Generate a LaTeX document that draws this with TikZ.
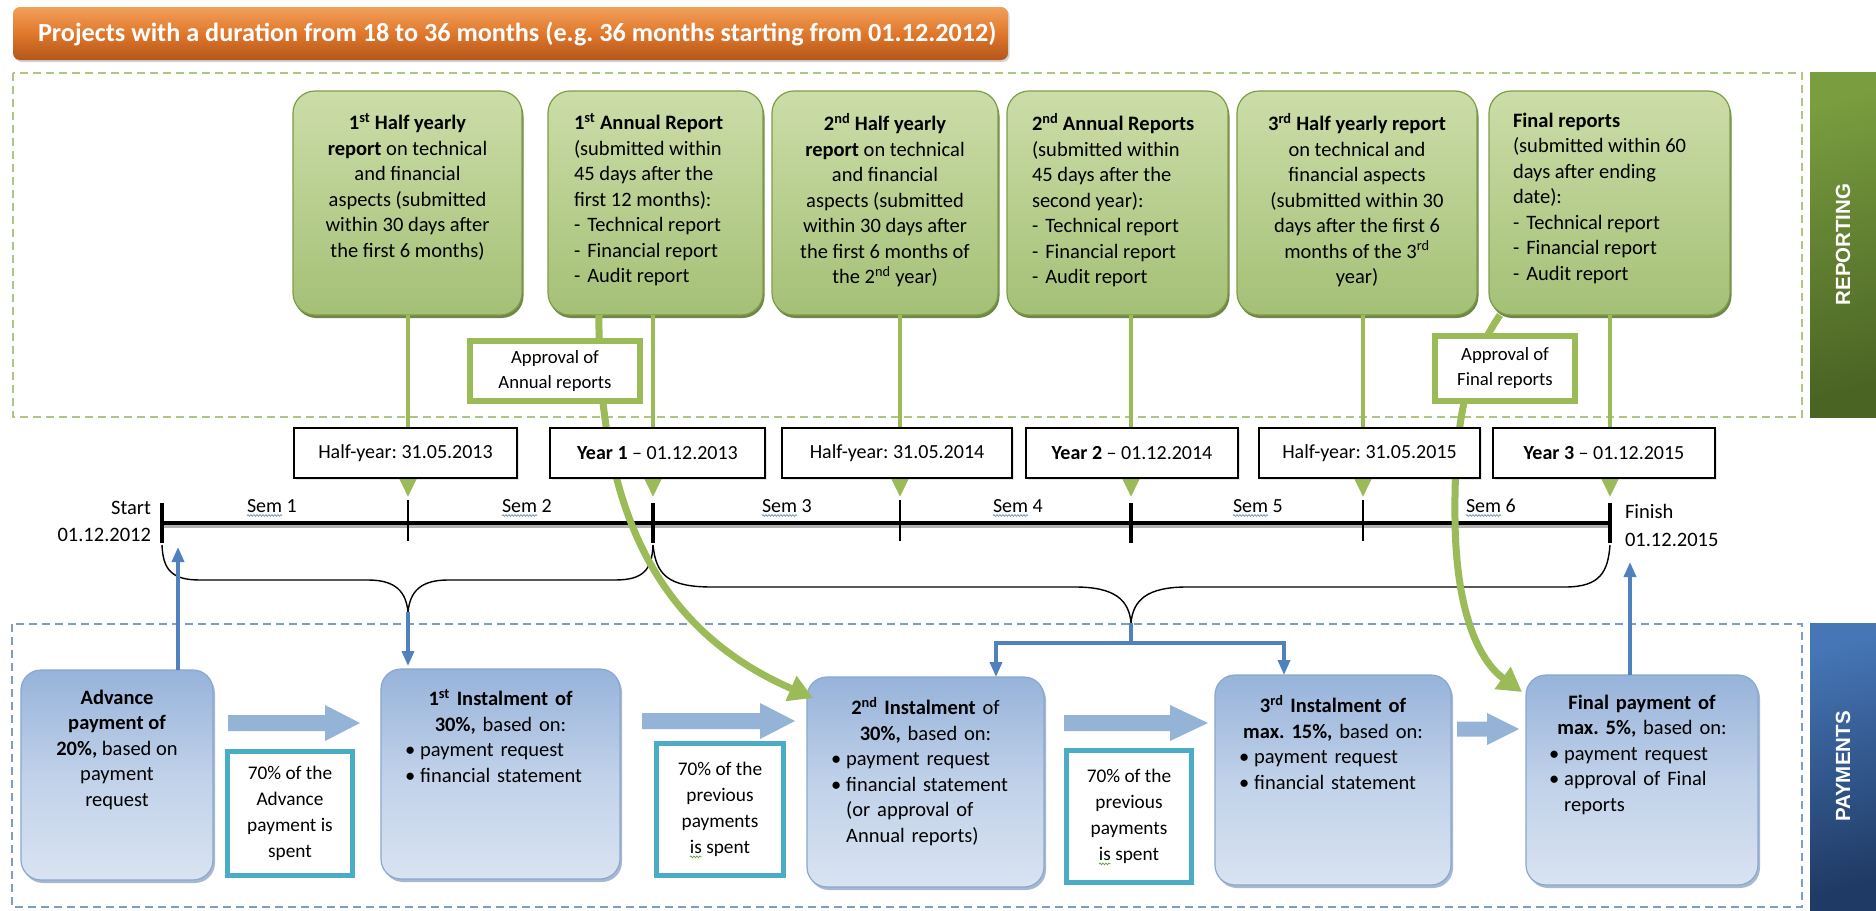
\documentclass[tikz,border=0pt]{standalone}
\usepackage{fontspec}
\setmainfont{Carlito}
\newfontfamily\bandfont{Liberation Sans}
\usetikzlibrary{arrows.meta,shadows,decorations.pathmorphing,calc}
\frenchspacing

\definecolor{gline}{HTML}{9BBB59}
\definecolor{gtop}{HTML}{CCDDA8}
\definecolor{gbot}{HTML}{A4C076}
\definecolor{gedge}{HTML}{7E9E46}
\definecolor{gshadow}{HTML}{56702C}
\definecolor{gdash}{HTML}{AFC583}
\definecolor{bdash}{HTML}{7F9CC2}
\definecolor{bconn}{HTML}{4F81BD}
\definecolor{btop}{HTML}{97B3DA}
\definecolor{bmid}{HTML}{C0D1E9}
\definecolor{bbot}{HTML}{D9E3F1}
\definecolor{bedge}{HTML}{8AA7D0}
\definecolor{bshadow}{HTML}{5F7FA8}
\definecolor{barrowc}{HTML}{95B3D7}
\definecolor{tealb}{HTML}{4BACC6}
\definecolor{otop}{HTML}{F2A05A}
\definecolor{omid}{HTML}{E0782C}
\definecolor{obot}{HTML}{B3551A}
\definecolor{rtop}{HTML}{7A9D3F}
\definecolor{rbot}{HTML}{4A6424}
\definecolor{ptop}{HTML}{4676B6}
\definecolor{pbot}{HTML}{1F3A64}
\definecolor{sqc}{HTML}{6D8FBE}
\definecolor{sqg}{HTML}{5E9E3A}

\newcommand\bodyfont{\fontsize{20.5}{25.5}\selectfont}
\newcommand\datefont{\fontsize{20}{24}\selectfont}
\newcommand\smallfont{\fontsize{18.7}{25}\selectfont}
\newcommand\tfont{\fontsize{19.3}{25.8}\selectfont}
\newcommand\titlefont{\fontsize{26.2}{30}\selectfont\bfseries}
\newlength\sqw
\newcommand\sq[2]{\settowidth\sqw{#2}\makebox[0pt][l]{\tikz[overlay]\draw[#1,line width=.7pt,decorate,decoration={snake,amplitude=.9pt,segment length=3pt}] (0pt,-3.5pt) -- (\sqw,-3.5pt);}#2}
\newcommand\blockarr[6]{\fill[barrowc] (#1,#4-#5) -- (#2,#4-#5) -- (#2,#4-#6) -- (#3,#4) -- (#2,#4+#6) -- (#2,#4+#5) -- (#1,#4+#5) -- cycle;}

\tikzset{
  greenbox/.style={draw=gedge, line width=1.2pt, rounded corners=22pt, top color=gtop, bottom color=gbot,
    drop shadow={shadow xshift=1.5pt, shadow yshift=-3pt, fill=gshadow, opacity=.85}},
  paybox/.style={draw=bedge, line width=1.2pt, rounded corners=20pt, top color=btop, bottom color=bbot, middle color=bmid,
    drop shadow={shadow xshift=2pt, shadow yshift=-3pt, fill=bshadow, opacity=.55}},
  datebox/.style={draw=black, line width=1.3pt, fill=white, font=\datefont,
    drop shadow={shadow xshift=2pt, shadow yshift=-2pt, opacity=.2}},
  apbox/.style={draw=gline, line width=6pt, fill=white, font=\smallfont, align=center},
  tbox/.style={draw=tealb, line width=5pt, fill=white, font=\tfont, align=center},
  btext/.style={font=\bodyfont},
  garrow/.style={draw=gline, line width=4pt, -{Triangle[length=18pt,width=16pt]}},
  gcurve/.style={draw=gline, line width=7pt, -{Triangle[length=24pt,width=26pt]}},
  barrow/.style={draw=bconn, line width=3.5pt, -{Triangle[length=15pt,width=12pt]}},
  bline/.style={draw=bconn, line width=3.5pt},
  bracestyle/.style={draw=black, line width=1.4pt},
  bigtick/.style={draw=black, line width=4.5pt},
  smalltick/.style={draw=black, line width=1.6pt},
}

\begin{document}
\begin{tikzpicture}[x=1pt,y=-1pt, every node/.style={inner sep=0pt, outer sep=0pt}]
\useasboundingbox (0,0) rectangle (1876,910);
\fill[white] (0,0) rectangle (1876,910);

% ---------- frames and bands ----------
\draw[gdash, line width=1.6pt, dash pattern=on 8pt off 5pt] (13,73) rectangle (1802,417);
\draw[bdash, line width=1.6pt, dash pattern=on 8pt off 5pt] (12,624) rectangle (1802,907);
\node[minimum width=66pt, minimum height=345pt, top color=rtop, bottom color=rbot, shading angle=15] (repband) at (1843,244.5) {};
\node[rotate=90, text=white, font=\bandfont\bfseries\fontsize{20.5}{21}\selectfont] (replab) at (repband) {REPORTING};
\node[minimum width=66pt, minimum height=287pt, top color=ptop, bottom color=pbot, shading angle=15] (payband) at (1843,766.5) {};
\node[rotate=90, text=white, font=\bandfont\bfseries\fontsize{20.5}{21}\selectfont] (paylab) at (payband) {PAYMENTS};

% ---------- title ----------
\node[minimum width=995pt, minimum height=53pt, rounded corners=7pt, top color=otop, bottom color=obot, middle color=omid,
  drop shadow={shadow xshift=1.5pt, shadow yshift=-2pt, opacity=.35}] (title) at (510.5,33.5) {};
\node[anchor=west, text=white, font=\titlefont] (titletext) at (38,34) {Projects with a duration from 18 to 36 months (e.g. 36 months starting from 01.12.2012)};

% ---------- report boxes ----------
\node[greenbox, minimum width=229pt, minimum height=224pt] (b1) at (407.5,203) {};
\node[greenbox, minimum width=215pt, minimum height=224pt] (b2) at (655.5,203) {};
\node[greenbox, minimum width=226pt, minimum height=224pt] (b3) at (885,203) {};
\node[greenbox, minimum width=221pt, minimum height=224pt] (b4) at (1117.5,203) {};
\node[greenbox, minimum width=240pt, minimum height=224pt] (b5) at (1357,203) {};
\node[greenbox, minimum width=241pt, minimum height=224pt] (b6) at (1609.5,203) {};

\node[btext, anchor=north, align=center] (b1t) at ($(b1.north)+(0,22)$)
 {\textbf{1\textsuperscript{st} Half yearly}\\\textbf{report} on technical\\and financial\\aspects (submitted\\within 30 days after\\the first 6 months)};
\node[btext, anchor=north west, align=left] (b2t) at ($(b2.north west)+(26,22)$)
 {\textbf{1\textsuperscript{st} Annual Report}\\(submitted within\\45 days after the\\first 12 months):\\-\hspace{7pt}Technical report\\-\hspace{7pt}Financial report\\-\hspace{7pt}Audit report};
\node[btext, anchor=north, align=center] (b3t) at ($(b3.north)+(0,22)$)
 {\textbf{2\textsuperscript{nd} Half yearly}\\\textbf{report} on technical\\and financial\\aspects (submitted\\within 30 days after\\the first 6 months of\\the 2\textsuperscript{nd} year)};
\node[btext, anchor=north west, align=left] (b4t) at ($(b4.north west)+(25,22)$)
 {\textbf{2\textsuperscript{nd} Annual Reports}\\(submitted within\\45 days after the\\second year):\\-\hspace{7pt}Technical report\\-\hspace{7pt}Financial report\\-\hspace{7pt}Audit report};
\node[btext, anchor=north, align=center] (b5t) at ($(b5.north)+(0,22)$)
 {\textbf{3\textsuperscript{rd} Half yearly report}\\on technical and\\financial aspects\\(submitted within 30\\days after the first 6\\months of the 3\textsuperscript{rd}\\year)};
\node[btext, anchor=north west, align=left] (b6t) at ($(b6.north west)+(24,22)$)
 {\textbf{Final reports}\\(submitted within 60\\days after ending\\date):\\-\hspace{7pt}Technical report\\-\hspace{7pt}Financial report\\-\hspace{7pt}Audit report};

% ---------- timeline coordinates ----------
\coordinate (t0) at (162,523);
\coordinate (t1) at (408,523);
\coordinate (t2) at (653,523);
\coordinate (t3) at (900,523);
\coordinate (t4) at (1131,523);
\coordinate (t5) at (1363,523);
\coordinate (t6) at (1610,523);

% ---------- green thin arrows ----------
\draw[garrow] (b1.south -| t1) -- ($(t1)+(0,-26)$);
\draw[garrow] (b2.south -| t2) -- ($(t2)+(0,-26)$);
\draw[garrow] (b3.south -| t3) -- ($(t3)+(0,-26)$);
\draw[garrow] (b4.south -| t4) -- ($(t4)+(0,-26)$);
\draw[garrow] (b5.south -| t5) -- ($(t5)+(0,-26)$);
\draw[garrow] (b6.south -| t6) -- ($(t6)+(0,-26)$);

% ---------- timeline ----------
\draw[line width=4pt, black!30] ($(t0)+(0,3)$) -- ($(t6)+(0,3)$);
\draw[line width=4.5pt] (t0) -- (t6);
\foreach \t in {t0,t2,t4,t6} \draw[bigtick] ($(\t)+(0,-20)$) -- ($(\t)+(0,20)$);
\foreach \t in {t1,t3,t5} \draw[smalltick] ($(\t)+(0,-23)$) -- ($(\t)+(0,18)$);

\node[btext, anchor=east] (lstart) at (151,508) {Start};
\node[btext, anchor=east] (lsdate) at (151,535) {01.12.2012};
\node[btext, anchor=west] (lfinish) at (1625,511) {Finish};
\node[btext, anchor=west] (lfdate) at (1625,540) {01.12.2015};

\node[font=\fontsize{20}{24}\selectfont, anchor=base west] (s1) at (247,512) {\sq{sqc}{Sem} 1};
\node[font=\fontsize{20}{24}\selectfont, anchor=base west] (s2) at (502,512) {\sq{sqc}{Sem} 2};
\node[font=\fontsize{20}{24}\selectfont, anchor=base west] (s3) at (762,512) {\sq{sqc}{Sem} 3};
\node[font=\fontsize{20}{24}\selectfont, anchor=base west] (s4) at (993,512) {\sq{sqc}{Sem} 4};
\node[font=\fontsize{20}{24}\selectfont, anchor=base west] (s5) at (1233,512) {\sq{sqc}{Sem} 5};
\node[font=\fontsize{20}{24}\selectfont, anchor=base west] (s6) at (1466,512) {\sq{sqc}{Sem} 6};

% ---------- braces ----------
\coordinate (br1) at (408,612);
\coordinate (br2) at (1131,623);
\draw[bracestyle] (162,545) .. controls (163,570) and (172,580) .. (200,580) -- (368,580)
  .. controls (396,580) and (406,592) .. (br1) .. controls (410,592) and (420,580) .. (448,580) -- (615,580)
  .. controls (643,580) and (652,570) .. (653,545);
\draw[bracestyle] (653,545) .. controls (656,575) and (668,587) .. (712,587) -- (1075,587)
  .. controls (1115,587) and (1129,600) .. (br2) .. controls (1133,600) and (1147,587) .. (1187,587) -- (1565,587)
  .. controls (1600,587) and (1608,572) .. (1610,545);

% ---------- payment boxes ----------
\node[paybox, minimum width=192pt, minimum height=210pt] (p0) at (117,775) {};
\node[paybox, minimum width=239pt, minimum height=210pt] (p1) at (500.5,774) {};
\node[paybox, minimum width=237pt, minimum height=210pt] (p2) at (925.5,782) {};
\node[paybox, minimum width=236pt, minimum height=210pt] (p3) at (1333,780) {};
\node[paybox, minimum width=232pt, minimum height=210pt] (p4) at (1642,780) {};

% ---------- green thick curves ----------
\coordinate (ca0) at (599,315);
\coordinate (cf0) at (1500,315);
\draw[gcurve] (ca0) .. controls (597,540) and (680,640) .. ($(p2.north west)+(6,21)$);
\draw[gcurve] (cf0) .. controls (1462,370) and (1454,440) .. (1455,520) .. controls (1456,610) and (1478,660) .. ($(p4.north west)+(-4,17)$);

% ---------- approval boxes ----------
\node[apbox, minimum width=170pt, minimum height=60pt] (aa) at (555,371) {Approval of\\Annual reports};
\node[apbox, minimum width=140pt, minimum height=65pt] (af) at (1505,368.5) {Approval of\\Final reports};

% ---------- date boxes ----------
\node[datebox, minimum width=223pt, minimum height=50pt] (d1) at (405.5,453) {Half-year: 31.05.2013};
\node[datebox, minimum width=215pt, minimum height=50pt] (d2) at (657.5,453) {\textbf{Year 1} -- 01.12.2013};
\node[datebox, minimum width=230pt, minimum height=50pt] (d3) at (897,453) {Half-year: 31.05.2014};
\node[datebox, minimum width=212pt, minimum height=50pt] (d4) at (1132,453) {\textbf{Year 2} -- 01.12.2014};
\node[datebox, minimum width=221pt, minimum height=50pt] (d5) at (1369.5,453) {Half-year: 31.05.2015};
\node[datebox, minimum width=222pt, minimum height=50pt] (d6) at (1604,453) {\textbf{Year 3} -- 01.12.2015};

% ---------- payment texts ----------
\node[btext, anchor=north, align=center] (p0t) at ($(p0.north)+(0,20)$)
 {\textbf{Advance}\\\textbf{payment of}\\\textbf{20\%,} based on\\payment\\request};
\node[btext, anchor=north, text width=191pt, align=left] (p1t) at ($(p1.north)+(0,20)$)
 {\makebox[\linewidth]{\textbf{1\textsuperscript{st} Instalment of}}\\\makebox[\linewidth]{\textbf{30\%,} based on:}\\•\hspace{5pt}payment request\\•\hspace{5pt}financial statement};
\node[btext, anchor=north, text width=189pt, align=left] (p2t) at ($(p2.north)+(0,20)$)
 {\makebox[\linewidth]{\textbf{2\textsuperscript{nd} Instalment} of}\\\makebox[\linewidth]{\textbf{30\%,} based on:}\\•\hspace{5pt}payment request\\•\hspace{5pt}financial statement\\\phantom{•}\hspace{5pt}(or approval of\\\phantom{•}\hspace{5pt}Annual reports)};
\node[btext, anchor=north, text width=188pt, align=left] (p3t) at ($(p3.north)+(0,20)$)
 {\makebox[\linewidth]{\textbf{3\textsuperscript{rd} Instalment of}}\\\makebox[\linewidth]{\textbf{max. 15\%,} based on:}\\•\hspace{5pt}payment request\\•\hspace{5pt}financial statement};
\node[btext, anchor=north, text width=186pt, align=left] (p4t) at ($(p4.north)+(0,20)$)
 {\makebox[\linewidth]{\textbf{Final payment of}}\\\makebox[\linewidth]{\textbf{max. 5\%,} based on:}\\•\hspace{5pt}payment request\\•\hspace{5pt}approval of Final\\\phantom{•}\hspace{5pt}reports};

% ---------- spent boxes ----------
\node[tbox, minimum width=125pt, minimum height=124pt] (s70a) at (290,813.5) {70\% of the\\Advance\\payment is\\spent};
\node[tbox, minimum width=127pt, minimum height=132pt] (s70b) at (720,809.5) {70\% of the\\previous\\payments\\\sq{sqg}{is} spent};
\node[tbox, minimum width=125pt, minimum height=132pt] (s70c) at (1129,816.5) {70\% of the\\previous\\payments\\\sq{sqg}{is} spent};

% ---------- block arrows ----------
\blockarr{228}{325}{360}{723}{8}{18}
\blockarr{642}{760}{795}{721}{8}{18}
\blockarr{1064}{1170}{1208}{723}{8}{18}
\blockarr{1457}{1487}{1519}{729}{7.5}{16}

% ---------- blue connectors ----------
\coordinate (ua) at (178,547);
\coordinate (uf) at (1630,562);
\coordinate (sp0) at (1131,643);
\coordinate (sp1) at (996,643);
\coordinate (sp2) at (1284,643);
\draw[barrow] (ua |- p0.north) -- (ua);
\draw[barrow] (uf |- p4.north) -- (uf);
\draw[barrow] (br1) -- ($(br1 |- p1.north)+(0,-3)$);
\draw[bline] (br2) -- (sp0);
\draw[bline] ($(sp1)+(-1.75,0)$) -- ($(sp2)+(1.75,0)$);
\draw[barrow] (sp1) -- (sp1 |- p2.north);
\draw[barrow] (sp2) -- (sp2 |- p3.north);
\end{tikzpicture}
\end{document}
